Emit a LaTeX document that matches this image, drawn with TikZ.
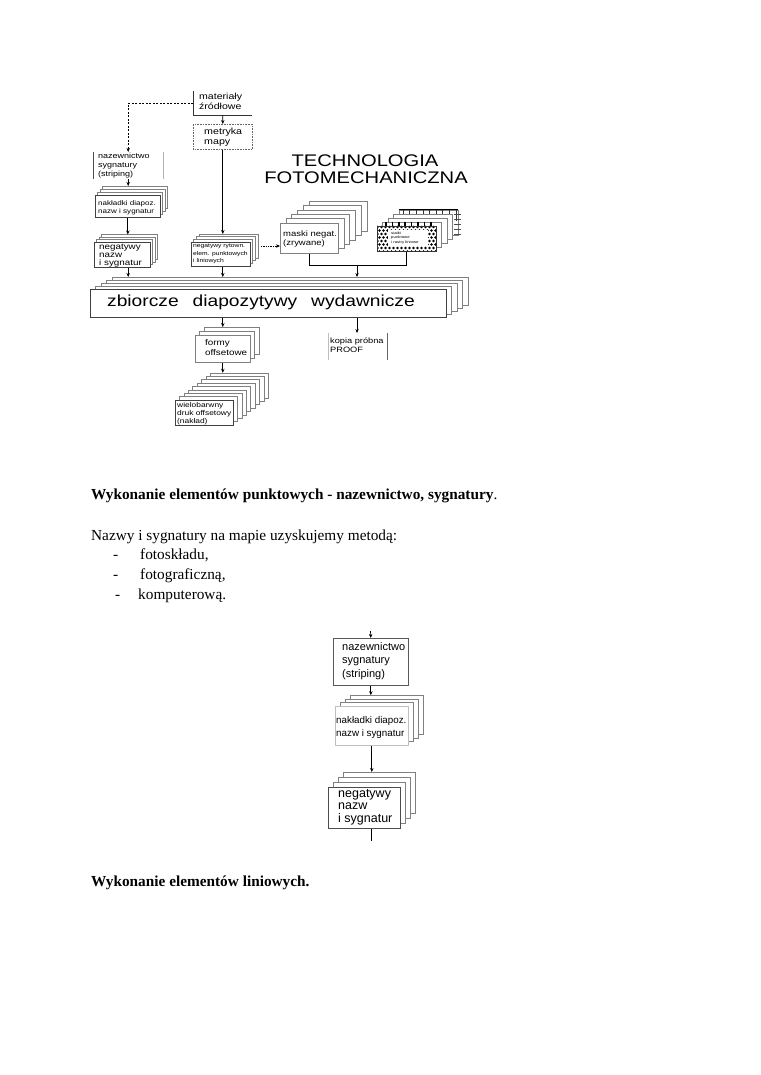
\documentclass[tikz,border=0pt]{standalone}
\usepackage{fontspec}
\setmainfont{Liberation Serif}
\newfontfamily\dgfont[FakeStretch=1.2]{Liberation Sans}
\newfontfamily\dnfont{Liberation Sans}
\usetikzlibrary{arrows.meta}
\newcommand\fsz[2]{\fontsize{#1pt}{#2pt}\selectfont}
\newcommand\pagestack[7]{%
  \foreach \k in {#5,...,1}{%
    \draw[page] ({#1+\k*#6},{#2-\k*#7}) rectangle ({#3+\k*#6},{#4-\k*#7});
  }}
\tikzset{
  page/.style={draw=black!50, fill=white, line width=0.5pt},
  box/.style={draw=black!75, fill=white, line width=0.6pt, inner sep=0pt, anchor=north west},
  nobox/.style={inner sep=0pt, anchor=north west},
  lbl/.style={inner sep=0pt, anchor=north west, align=left},
  arr/.style={-{Stealth[length=4pt,width=3.4pt]}, line width=0.7pt, draw=black},
  ln/.style={line width=0.7pt, draw=black},
  body/.style={anchor=base west, inner sep=0pt, font=\fsz{15.3}{18}},
}
\begin{document}
\begin{tikzpicture}[x=1pt,y=-1pt]
\useasboundingbox (0,0) rectangle (760,1075);
\fill[white] (0,0) rectangle (760,1075);

% ---------- top diagram ----------
% materialy zrodlowe
\node[nobox, minimum width=59pt, minimum height=24pt] (mat) at (193,91) {};
\draw[black!80, line width=0.6pt] (mat.north west) -- (mat.south west) -- (mat.south east);
\node[lbl, font=\dgfont\fsz{8.8}{10}] (matt) at (199,93) {materiały\\źródłowe};

% metryka mapy
\node[nobox, draw=black!60, densely dotted, line width=0.6pt, minimum width=59pt, minimum height=25pt] (met) at (193,124) {};
\node[lbl, font=\dgfont\fsz{8.9}{9.5}] (mett) at (204,128) {metryka\\mapy};
\draw[arr] (mat.south) -- (met.north);

% nazewnictwo (top)
\node[nobox, minimum width=70pt, minimum height=27pt] (naz1) at (93,152) {};
\draw[black!70, line width=0.6pt] (naz1.north west) -- (naz1.south west);
\draw[black!30, line width=0.5pt] (naz1.north east) -- (naz1.south east);
\node[lbl, font=\dgfont\fsz{7.5}{8.7}] (naz1t) at (98,153) {nazewnictwo\\sygnatury\\(striping)};
\draw[ln, dash pattern=on 2pt off 1.5pt, -{Stealth[length=4pt,width=3.4pt]}] (mat.west) -| (naz1.north);

% nakladki (top)
\pagestack{95}{195}{160}{217}{3}{2.5}{3}
\node[box, minimum width=65pt, minimum height=22pt] (nak1) at (95,195) {};
\node[lbl, font=\dgfont\fsz{6.7}{8}] (nak1t) at (98,200) {nakładki diapoz.\\nazw i sygnatur};
\coordinate (nak1top) at (0,186);
\draw[arr] (naz1.south) -- (naz1.south |- nak1top);

% negatywy nazw (top)
\pagestack{94}{242}{150}{267}{3}{2.5}{2.5}
\node[box, minimum width=56pt, minimum height=25pt] (neg1) at (94,242) {};
\node[lbl, font=\dgfont\fsz{8.2}{8.2}] (neg1t) at (99,243.5) {negatywy\\nazw\\i sygnatur};
\coordinate (neg1top) at (0,234.5);
\draw[arr] (nak1.south) -- (nak1.south |- neg1top);

% negatywy rytown.
\pagestack{191}{242}{250}{266}{3}{2.7}{2.7}
\node[box, minimum width=59pt, minimum height=24pt] (nrt) at (191,242) {};
\node[lbl, font=\dgfont\fsz{5.6}{7.4}] (nrtt) at (193,244) {negatywy rytown.\\elem. punktowych\\i liniowych};
\coordinate (nrttop) at (0,234);
\draw[arr] (met.south) -- (met.south |- nrttop);

% maski negat.
\pagestack{280}{223}{338}{253}{5}{5.8}{4.4}
\node[box, draw=black!50, minimum width=58pt, minimum height=30pt] (mask) at (280,223) {};
\node[lbl, font=\dgfont\fsz{7.9}{9}] (maskt) at (283,231) {maski negat.\\(zrywane)};
\coordinate (da) at (261,246);
\draw[ln, densely dotted, -{Stealth[length=4pt,width=3.4pt]}] (da) -- (mask.west |- da);

% grid / raster stack
\draw[page] (399,210) rectangle (458,235);
\draw[black, line width=1pt] (399,210) -- (458,210);
\foreach \i in {0,...,8} \draw[black!80, line width=0.5pt] ({403+\i*6.6},210) -- ++(0,11);
\foreach \j in {0,...,4} \draw[black!70, line width=0.5pt] (454,{214+\j*5}) -- (461,{214+\j*5});
\draw[page] (393.5,214) rectangle (452.5,239);
\draw[page] (388,218) rectangle (447,243);
\draw[page] (382.5,222) rectangle (441.5,247);
\foreach \i in {0,...,7} \draw[black, line width=1.6pt] ({386+\i*6.4},222) -- ++(0,6);
\node[box, minimum width=59pt, minimum height=25pt] (grid) at (377,226) {};
\begin{scope}
  \clip (377,226) rectangle (436,251);
  \foreach \j in {0,...,7} \foreach \i in {0,...,15}
    \fill[black] ({377.5+\i*4+mod(\j,2)*2},{227+\j*3.5}) circle (1.4pt);
\end{scope}
\draw[black!80, line width=0.6pt] (grid.north west) rectangle (grid.south east);
\node[nobox, fill=white, minimum width=40pt, minimum height=16pt] (gridin) at (388,230) {};
\node[lbl, font=\dgfont\fsz{3.6}{4.6}] (gridt) at (391,231.5) {siatki\\punktowe\\i rastry liniowe};

% bracket
\draw[ln] (mask.south) -- ++(0,12) -| (grid.south);
\coordinate (brk) at (357,265);

% title
\node[font=\dgfont\fsz{16.8}{17}, inner sep=0pt] (t1) at (365,161) {TECHNOLOGIA};
\node[font=\dgfont\fsz{16.8}{17}, inner sep=0pt] (t2) at (366,178) {FOTOMECHANICZNA};

% zbiorcze diapozytywy wydawnicze
\pagestack{90}{289}{446}{317}{4}{5.5}{3}
\node[box, minimum width=356pt, minimum height=28pt] (zb) at (90,289) {};
\node[font=\dgfont\fsz{16}{16}, inner sep=0pt] (zbt) at (261,302) {zbiorcze\hspace{14pt}diapozytywy\hspace{14pt}wydawnicze};
\coordinate (zbtop) at (0,277);
\draw[arr] (neg1.south -| naz1.south) -- (naz1.south |- zbtop);
\draw[arr] (nrt.south -| met.south) -- (met.south |- zbtop);
\draw[arr] (brk) -- (brk |- zbtop);

% formy offsetowe
\pagestack{195}{335}{250}{362}{2}{4.5}{4}
\node[box, draw=black!50, minimum width=55pt, minimum height=27pt] (fm) at (195,335) {};
\node[lbl, font=\dgfont\fsz{8.2}{10}] (fmt) at (205,339) {formy\\offsetowe};
\coordinate (fmtop) at (0,327);
\draw[arr] (zb.south -| met.south) -- (met.south |- fmtop);

% kopia probna
\node[nobox, minimum width=59pt, minimum height=27pt] (kp) at (328,333) {};
\draw[black!25, line width=0.5pt] (kp.north west) -- (kp.south west);
\draw[black!60, line width=0.6pt] (kp.north east) -- (kp.south east);
\node[lbl, font=\dgfont\fsz{7.7}{8.5}] (kpt) at (330,338) {kopia próbna\\PROOF};
\draw[arr] (zb.south -| brk) -- (kp.north -| brk);

% wielobarwny druk
\pagestack{175}{400}{233}{425}{8}{4.4}{3.4}
\node[box, minimum width=58pt, minimum height=25pt] (wb) at (175,400) {};
\node[lbl, font=\dgfont\fsz{7}{8}] (wbt) at (177,402) {wielobarwny\\druk offsetowy\\(nakład)};
\coordinate (wbtop) at (0,372.8);
\draw[arr] (fm.south) -- (fm.south |- wbtop);

% ---------- body text ----------
\node[body] (h1) at (91,499) {\textbf{Wykonanie elementów punktowych - nazewnictwo, sygnatury}.};
\node[body] (p1) at (91,540) {Nazwy i sygnatury na mapie uzyskujemy metodą:};
\node[body] (d1) at (113,559) {-};
\node[body] (i1) at (140,559) {fotoskładu,};
\node[body] (d2) at (113,579) {-};
\node[body] (i2) at (140,579) {fotograficzną,};
\node[body] (d3) at (115,599) {-};
\node[body] (i3) at (138,599) {komputerową.};
\node[body] (h2) at (91,886) {\textbf{Wykonanie elementów liniowych.}};

% ---------- second diagram ----------
\node[box, draw=black!65, minimum width=75pt, minimum height=47pt] (naz2) at (333,638) {};
\node[lbl, font=\dnfont\fsz{11}{13.5}] (naz2t) at (342,642) {nazewnictwo\\sygnatury\\(striping)};
\coordinate (n2in) at (370.5,631);
\draw[arr] (n2in) -- (naz2.north);

\pagestack{335}{706}{408}{745}{3}{5}{3.6}
\node[box, draw=black!25, minimum width=73pt, minimum height=39pt] (nak2) at (335,706) {};
\node[lbl, font=\dnfont\fsz{9.8}{13}] (nak2t) at (336,716) {nakładki diapoz.\\nazw i sygnatur};
\coordinate (nak2top) at (0,695.2);
\draw[arr] (naz2.south) -- (naz2.south |- nak2top);

\pagestack{328}{787}{400}{828}{3}{5}{5}
\node[box, draw=black!70, minimum width=72pt, minimum height=41pt] (neg2) at (328,787) {};
\node[lbl, font=\dnfont\fsz{12.5}{12.5}] (neg2t) at (338,789) {negatywy\\nazw\\i sygnatur};
\coordinate (neg2top) at (0,772);
\draw[arr] (nak2.south) -- (nak2.south |- neg2top);
\draw[ln] (neg2.south -| nak2.south) -- ++(0,12) coordinate (neg2out);
\end{tikzpicture}
\end{document}
